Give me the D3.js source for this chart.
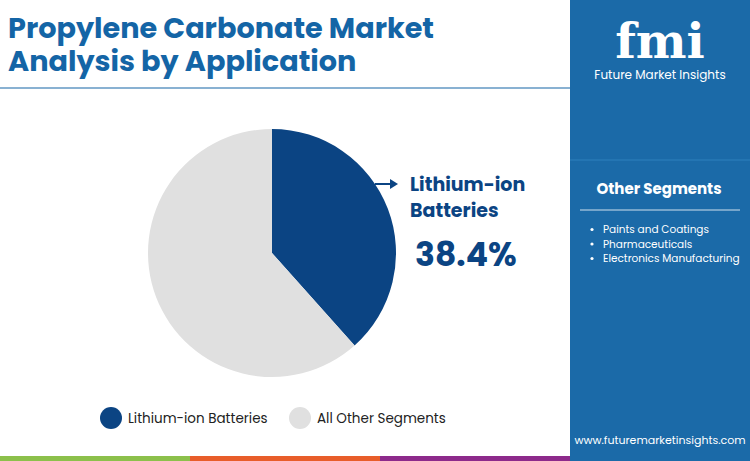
<!DOCTYPE html>
<html><head><meta charset="utf-8">
<script src="https://cdn.jsdelivr.net/npm/d3@7"></script>
<style>body{margin:0}svg{display:block;font-family:Poppins,Roboto,"Open Sans",sans-serif}</style>
</head><body><svg id="c" width="750" height="461"></svg>
<script>
const categories = ["Lithium-ion Batteries", "All Other Segments"];
const values = [38.4, 61.6];
const colors = ["#0b4483", "#e0e0e0"];
const otherSegments = ["Paints and Coatings", "Pharmaceuticals", "Electronics Manufacturing"];

const svg = d3.select("#c");
svg.append("rect").attr("width",750).attr("height",461).attr("fill","#fff");
svg.append("text").attr("x",8).attr("y",38).attr("font-size",28.7).attr("font-weight",700).attr("fill","#1465a6").text("Propylene Carbonate Market");
svg.append("text").attr("x",8).attr("y",71).attr("font-size",28.7).attr("font-weight",700).attr("fill","#1465a6").text("Analysis by Application");
svg.append("line").attr("x1",0).attr("x2",570).attr("y1",88).attr("y2",88).attr("stroke","#1465a6").attr("stroke-width",1.2);

svg.append("rect").attr("x",570).attr("y",0).attr("width",180).attr("height",461).attr("fill","#1b6aa8");
svg.append("text").attr("x",660).attr("y",58).attr("text-anchor","middle").attr("font-size",48).attr("font-weight",700).attr("font-family","Georgia,'DejaVu Serif',serif").attr("fill","#fff").text("fmi");
svg.append("text").attr("x",660).attr("y",79).attr("text-anchor","middle").attr("font-size",12).attr("fill","#fff").text("Future Market Insights");
svg.append("line").attr("x1",570).attr("x2",750).attr("y1",160).attr("y2",160).attr("stroke","#2f80bd");
svg.append("text").attr("x",659).attr("y",194).attr("text-anchor","middle").attr("font-size",15).attr("font-weight",700).attr("fill","#fff").text("Other Segments");
svg.append("line").attr("x1",580).attr("x2",740).attr("y1",210).attr("y2",210).attr("stroke","#fff").attr("stroke-width",0.8);
otherSegments.forEach((s,i)=>{
  const y=233+i*14.5;
  svg.append("circle").attr("cx",592).attr("cy",y-3.5).attr("r",1.6).attr("fill","#fff");
  svg.append("text").attr("x",603).attr("y",y).attr("font-size",10.5).attr("fill","#fff").text(s);
});
svg.append("text").attr("x",660).attr("y",444).attr("text-anchor","middle").attr("font-size",11).attr("fill","#fff").text("www.futuremarketinsights.com");

[["#8cc04b",0],["#e85d2a",190],["#8d2a8b",380]].forEach(([c,x])=>svg.append("rect").attr("x",x).attr("y",456).attr("width",190).attr("height",5).attr("fill",c));

const pie = d3.pie().sort(null).value(d=>d)(values);
const arc = d3.arc().innerRadius(0).outerRadius(124);
svg.append("g").attr("transform","translate(272,253)").selectAll("path").data(pie).join("path").attr("d",arc).attr("fill",(d,i)=>colors[i]);

svg.append("line").attr("x1",375).attr("x2",392).attr("y1",184).attr("y2",184).attr("stroke","#0b4483").attr("stroke-width",2);
svg.append("path").attr("d","M390,179 L398,184 L390,189 Z").attr("fill","#0b4483");
svg.append("text").attr("x",410).attr("y",191).attr("font-size",19).attr("font-weight",700).attr("fill","#0b4483").text("Lithium-ion");
svg.append("text").attr("x",410).attr("y",217).attr("font-size",19).attr("font-weight",700).attr("fill","#0b4483").text("Batteries");
svg.append("text").attr("x",415).attr("y",266).attr("font-size",33).attr("font-weight",700).attr("fill","#0b4483").text(values[0].toFixed(1)+"%");

const lx=[111,300];
categories.forEach((c,i)=>{
  svg.append("circle").attr("cx",lx[i]).attr("cy",418).attr("r",11).attr("fill",colors[i]);
  svg.append("text").attr("x",lx[i]+17).attr("y",423).attr("font-size",13.5).attr("fill","#222").text(c);
});
</script></body></html>
